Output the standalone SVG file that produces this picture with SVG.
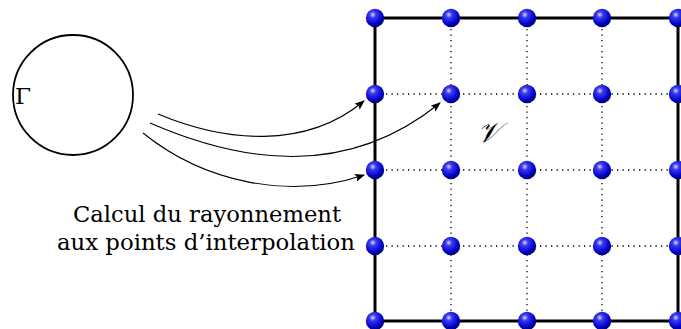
<svg xmlns="http://www.w3.org/2000/svg" width="681" height="329" viewBox="0 0 681 329">
<defs>
<radialGradient id="ball" cx="0.38" cy="0.32" r="0.7">
<stop offset="0" stop-color="#d8d8ff"/>
<stop offset="0.25" stop-color="#3a3af0"/>
<stop offset="0.75" stop-color="#0000c8"/>
<stop offset="1" stop-color="#00006a"/>
</radialGradient>
<marker id="arr" viewBox="0 0 10 8" refX="9" refY="4" markerWidth="10" markerHeight="8" markerUnits="userSpaceOnUse" orient="auto">
<path d="M0,0 L10,4 L0,8 L2,4 Z" fill="#000"/>
</marker>
<circle id="b" r="9.2" fill="url(#ball)"/>
</defs>
<style>
.dot{stroke:#000;stroke-width:1.3;stroke-dasharray:1.3 4.2;fill:none}
.frame{stroke:#000;stroke-width:3;fill:none}
.conn{stroke:#000;stroke-width:1.1;fill:none;marker-end:url(#arr)}
.t{font-family:"DejaVu Serif","Liberation Serif",serif;fill:#000}
</style>
<g id="gamma">
<circle cx="73" cy="95" r="60" fill="none" stroke="#000" stroke-width="1.8"/>
<text class="t" x="15" y="104" font-size="23">Γ</text>
</g>
<g id="grid">
<g class="dot">
<line x1="451" y1="18" x2="451" y2="321"/>
<line x1="527" y1="18" x2="527" y2="321"/>
<line x1="602" y1="18" x2="602" y2="321"/>
<line x1="375" y1="94" x2="678" y2="94"/>
<line x1="375" y1="170" x2="678" y2="170"/>
<line x1="375" y1="246" x2="678" y2="246"/>
</g>
<rect class="frame" x="375" y="18" width="303" height="303"/>
<text class="t" x="488" y="142" font-size="28" font-style="italic" text-anchor="middle">𝒱</text>
</g>
<g id="nodes">
<use href="#b" x="375" y="18"/><use href="#b" x="451" y="18"/><use href="#b" x="527" y="18"/><use href="#b" x="602" y="18"/><use href="#b" x="678" y="18"/>
<use href="#b" x="375" y="94"/><use href="#b" x="451" y="94"/><use href="#b" x="527" y="94"/><use href="#b" x="602" y="94"/><use href="#b" x="678" y="94"/>
<use href="#b" x="375" y="170"/><use href="#b" x="451" y="170"/><use href="#b" x="527" y="170"/><use href="#b" x="602" y="170"/><use href="#b" x="678" y="170"/>
<use href="#b" x="375" y="246"/><use href="#b" x="451" y="246"/><use href="#b" x="527" y="246"/><use href="#b" x="602" y="246"/><use href="#b" x="678" y="246"/>
<use href="#b" x="375" y="321"/><use href="#b" x="451" y="321"/><use href="#b" x="527" y="321"/><use href="#b" x="602" y="321"/><use href="#b" x="678" y="321"/>
</g>
<g id="connectors">
<path class="conn" d="M158,114 C225,142 305,150 364,101"/>
<path class="conn" d="M150,123 C240,162 345,180 440,103"/>
<path class="conn" d="M143,133 C205,183 290,200 364,175"/>
</g>
<g id="label">
<text class="t" font-size="22.5"><tspan x="73" y="222" textLength="268" lengthAdjust="spacingAndGlyphs">Calcul du rayonnement</tspan><tspan x="57" y="250" textLength="298" lengthAdjust="spacingAndGlyphs">aux points d’interpolation</tspan></text>
</g>
</svg>
